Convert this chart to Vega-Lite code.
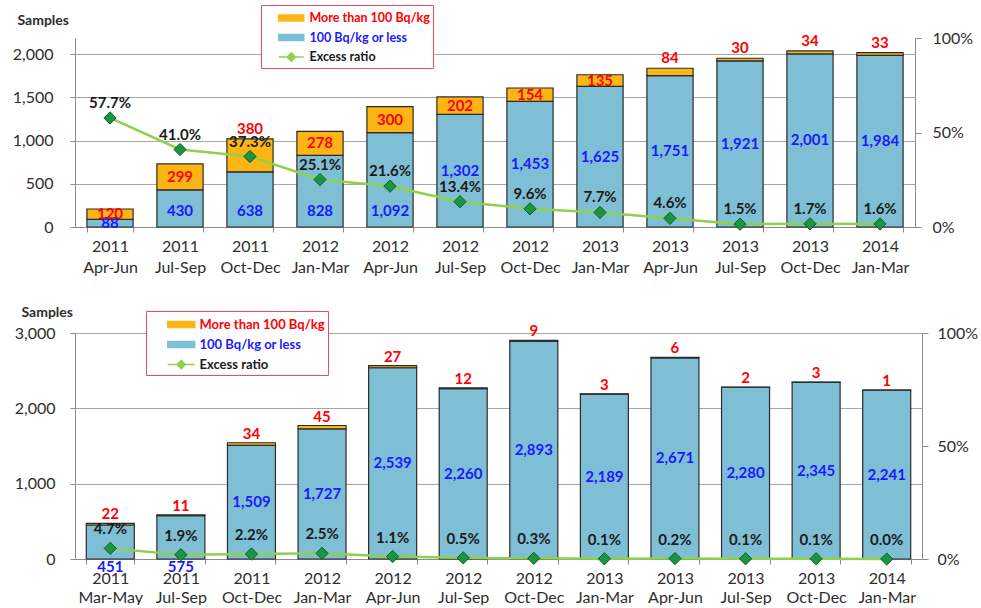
{
  "$schema": "https://vega.github.io/schema/vega-lite/v6.json",
  "background": "white",
  "padding": {"left": 12, "top": 4, "right": 0, "bottom": 0},
  "config": {
    "font": "Lato",
    "view": {"stroke": null},
    "axis": {"labelFont": "Lato", "titleFont": "Lato", "domainColor": "#8c8c8c", "tickColor": "#8c8c8c", "gridColor": "#a6a6a6", "labelColor": "#2e2e2e", "titleColor": "#2e2e2e"},
    "legend": {"labelFont": "Lato"},
    "text": {"font": "Lato"}
  },
  "datasets": {
    "top": [
      {"period": "2011 Apr-Jun", "le": 88, "gt": 120, "ratio": 0.577},
      {"period": "2011 Jul-Sep", "le": 430, "gt": 299, "ratio": 0.410},
      {"period": "2011 Oct-Dec", "le": 638, "gt": 380, "ratio": 0.373},
      {"period": "2012 Jan-Mar", "le": 828, "gt": 278, "ratio": 0.251},
      {"period": "2012 Apr-Jun", "le": 1092, "gt": 300, "ratio": 0.216},
      {"period": "2012 Jul-Sep", "le": 1302, "gt": 202, "ratio": 0.134},
      {"period": "2012 Oct-Dec", "le": 1453, "gt": 154, "ratio": 0.096},
      {"period": "2013 Jan-Mar", "le": 1625, "gt": 135, "ratio": 0.077},
      {"period": "2013 Apr-Jun", "le": 1751, "gt": 84, "ratio": 0.046},
      {"period": "2013 Jul-Sep", "le": 1921, "gt": 30, "ratio": 0.015},
      {"period": "2013 Oct-Dec", "le": 2001, "gt": 34, "ratio": 0.017},
      {"period": "2014 Jan-Mar", "le": 1984, "gt": 33, "ratio": 0.016}
    ],
    "bottom": [
      {"period": "2011 Mar-May", "le": 451, "gt": 22, "ratio": 0.047},
      {"period": "2011 Jul-Sep", "le": 575, "gt": 11, "ratio": 0.019},
      {"period": "2011 Oct-Dec", "le": 1509, "gt": 34, "ratio": 0.022},
      {"period": "2012 Jan-Mar", "le": 1727, "gt": 45, "ratio": 0.025},
      {"period": "2012 Apr-Jun", "le": 2539, "gt": 27, "ratio": 0.011},
      {"period": "2012 Jul-Sep", "le": 2260, "gt": 12, "ratio": 0.005},
      {"period": "2012 Oct-Dec", "le": 2893, "gt": 9, "ratio": 0.003},
      {"period": "2013 Jan-Mar", "le": 2189, "gt": 3, "ratio": 0.001},
      {"period": "2013 Apr-Jun", "le": 2671, "gt": 6, "ratio": 0.002},
      {"period": "2013 Jul-Sep", "le": 2280, "gt": 2, "ratio": 0.001},
      {"period": "2013 Oct-Dec", "le": 2345, "gt": 3, "ratio": 0.001},
      {"period": "2014 Jan-Mar", "le": 2241, "gt": 1, "ratio": 0.000}
    ]
  },
  "bounds": "flush",
  "spacing": 106,
  "resolve": {"scale": {"color": "independent"}, "legend": {"color": "independent"}},
  "vconcat": [
    {
      "width": 840,
      "height": 189,
      "data": {"name": "top"},
      "resolve": {"scale": {"y": "independent"}},
      "encoding": {
        "x": {
          "field": "period", "type": "nominal", "sort": null,
          "scale": {"paddingInner": 0.34, "paddingOuter": 0.17},
          "axis": {"title": null, "labelAngle": 0, "labelExpr": "split(datum.label, ' ')", "labelFontSize": 16, "labelLineHeight": 21, "labelPadding": 6, "tickBand": "extent", "tickSize": 5}
        }
      },
      "layer": [
        {
          "layer": [
            {
              "transform": [{"fold": ["le", "gt"], "as": ["key", "n"]}],
              "mark": {"type": "bar", "stroke": "#2b2b2b", "strokeWidth": 1.2},
              "encoding": {
                "y": {
                  "field": "n", "type": "quantitative", "stack": "zero",
                  "scale": {"domain": [0, 2185], "nice": false},
                  "axis": {"title": "Samples", "titleAngle": 0, "titleAlign": "left", "titleBaseline": "middle", "titleX": -58, "titleY": -18, "titleFontSize": 14, "titleFontWeight": "bold", "values": [0, 500, 1000, 1500, 2000], "labelExpr": "format(datum.value, ',')", "labelFontSize": 16, "labelPadding": 17, "tickSize": 5, "grid": true}
                },
                "color": {
                  "field": "key", "type": "nominal",
                  "scale": {"domain": ["gt", "le", "Excess ratio"], "range": ["#fdb515", "#7fbfd5", "#8ed14a"]},
                  "legend": {
                    "orient": "none", "legendX": 186, "legendY": -33, "direction": "vertical",
                    "title": null, "strokeColor": "#ee4c63", "fillColor": "white", "padding": 3,
                    "symbolSize": 342, "symbolOffset": 17.25, "labelOffset": 8.25, "rowPadding": 2.5,
                    "labelFontSize": 12.5, "labelFontWeight": "bold",
                    "symbolStrokeWidth": 1.5,
                    "symbolType": {"expr": "datum.value == 'Excess ratio' ? 'M-1.35,0H1.35M-0.45,0L0,-0.45L0.45,0L0,0.45Z' : 'M-1.35,-0.32H1.35V0.32H-1.35Z'"},
                    "symbolFillColor": {"expr": "datum.value == 'gt' ? '#fdb515' : datum.value == 'le' ? '#7fbfd5' : '#1a9641'"},
                    "symbolStrokeColor": {"expr": "datum.value == 'Excess ratio' ? '#8ed14a' : '#2b2b2b'"},
                    "labelColor": {"expr": "datum.value == 'gt' ? '#ff0000' : datum.value == 'le' ? '#1a1aff' : '#1a1a1a'"},
                    "labelExpr": "datum.value == 'gt' ? 'More than 100 Bq/kg' : datum.value == 'le' ? '100 Bq/kg or less' : 'Excess ratio'"
                  }
                },
                "order": {"field": "key", "sort": "descending"}
              }
            },
            {
              "transform": [
                {"filter": "datum.le >= 1200 || datum.le < 200"},
                {"calculate": "datum.le / 2", "as": "pos"}
              ],
              "mark": {"type": "text", "color": "#1a1aff", "fontWeight": "bold", "fontSize": 15},
              "encoding": {
                "y": {"field": "pos", "type": "quantitative", "title": "Samples"},
                "text": {"field": "le", "type": "quantitative", "format": ","}
              }
            },
            {
              "transform": [{"filter": "datum.le < 1200 && datum.le >= 200"}],
              "mark": {"type": "text", "color": "#1a1aff", "fontWeight": "bold", "fontSize": 15, "dy": -16},
              "encoding": {
                "y": {"datum": 0, "type": "quantitative"},
                "text": {"field": "le", "type": "quantitative", "format": ","}
              }
            },
            {
              "transform": [
                {"filter": "datum.gt >= 100 && datum.period != '2011 Oct-Dec'"},
                {"calculate": "datum.le + datum.gt / 2", "as": "pos"}
              ],
              "mark": {"type": "text", "color": "#ff0000", "fontWeight": "bold", "fontSize": 15},
              "encoding": {
                "y": {"field": "pos", "type": "quantitative", "title": "Samples"},
                "text": {"field": "gt", "type": "quantitative", "format": ","}
              }
            },
            {
              "transform": [
                {"filter": "datum.gt < 100 || datum.period == '2011 Oct-Dec'"},
                {"calculate": "datum.le + datum.gt", "as": "pos"}
              ],
              "mark": {"type": "text", "color": "#ff0000", "fontWeight": "bold", "fontSize": 15, "dy": -10},
              "encoding": {
                "y": {"field": "pos", "type": "quantitative", "title": "Samples"},
                "text": {"field": "gt", "type": "quantitative", "format": ","}
              }
            }
          ]
        },
        {
          "layer": [
            {
              "mark": {"type": "line", "strokeWidth": 2.5},
              "encoding": {
                "y": {"field": "ratio", "type": "quantitative", "scale": {"domain": [0, 1], "nice": false},
                  "axis": {"orient": "right", "title": null, "values": [0, 0.5, 1], "format": ".0%", "labelFontSize": 16, "tickSize": 6, "labelPadding": 11, "grid": false}},
                "color": {"datum": "Excess ratio", "legend": null}
              }
            },
            {
              "mark": {"type": "point", "shape": "diamond", "filled": true, "size": 150, "fill": "#1a9641", "stroke": "#0d5c26", "strokeWidth": 1, "opacity": 1},
              "encoding": {"y": {"field": "ratio", "type": "quantitative"}}
            },
            {
              "mark": {"type": "text", "color": "#1a1a1a", "fontWeight": "bold", "fontSize": 15, "dy": -15},
              "encoding": {
                "y": {"field": "ratio", "type": "quantitative"},
                "text": {"field": "ratio", "type": "quantitative", "format": ".1%"}
              }
            }
          ]
        }
      ]
    },
    {
      "width": 847,
      "height": 226,
      "data": {"name": "bottom"},
      "resolve": {"scale": {"y": "independent"}},
      "encoding": {
        "x": {
          "field": "period", "type": "nominal", "sort": null,
          "scale": {"paddingInner": 0.32, "paddingOuter": 0.16},
          "axis": {"title": null, "labelAngle": 0, "labelExpr": "split(datum.label, ' ')", "labelFontSize": 16, "labelLineHeight": 19, "labelPadding": 6, "tickBand": "extent", "tickSize": 5}
        }
      },
      "layer": [
        {
          "layer": [
            {
              "transform": [{"fold": ["le", "gt"], "as": ["key", "n"]}],
              "mark": {"type": "bar", "stroke": "#2b2b2b", "strokeWidth": 1.2},
              "encoding": {
                "y": {
                  "field": "n", "type": "quantitative", "stack": "zero",
                  "scale": {"domain": [0, 3000], "nice": false},
                  "axis": {"title": "Samples", "titleAngle": 0, "titleAlign": "left", "titleBaseline": "middle", "titleX": -54, "titleY": -21, "titleFontSize": 14, "titleFontWeight": "bold", "values": [0, 500, 1000, 1500, 2000, 2500, 3000], "labelExpr": "format(datum.value, ',')", "labelFontSize": 16, "labelPadding": 15, "tickSize": 5, "grid": true}
                },
                "color": {
                  "field": "key", "type": "nominal",
                  "scale": {"domain": ["gt", "le", "Excess ratio"], "range": ["#fdb515", "#7fbfd5", "#8ed14a"]},
                  "legend": {
                    "orient": "none", "legendX": 71, "legendY": -22, "direction": "vertical",
                    "title": null, "strokeColor": "#ee4c63", "fillColor": "white", "padding": 3,
                    "symbolSize": 380, "symbolOffset": 21.75, "labelOffset": 7.75, "rowPadding": 2,
                    "labelFontSize": 13, "labelFontWeight": "bold",
                    "symbolStrokeWidth": 1.5,
                    "symbolType": {"expr": "datum.value == 'Excess ratio' ? 'M-1.38,0H1.38M-0.42,0L0,-0.42L0.42,0L0,0.42Z' : 'M-1.38,-0.31H1.38V0.31H-1.38Z'"},
                    "symbolFillColor": {"expr": "datum.value == 'gt' ? '#fdb515' : datum.value == 'le' ? '#7fbfd5' : '#1a9641'"},
                    "symbolStrokeColor": {"expr": "datum.value == 'Excess ratio' ? '#8ed14a' : '#2b2b2b'"},
                    "labelColor": {"expr": "datum.value == 'gt' ? '#ff0000' : datum.value == 'le' ? '#1a1aff' : '#1a1a1a'"},
                    "labelExpr": "datum.value == 'gt' ? 'More than 100 Bq/kg' : datum.value == 'le' ? '100 Bq/kg or less' : 'Excess ratio'"
                  }
                },
                "order": {"field": "key", "sort": "descending"}
              }
            },
            {
              "transform": [
                {"filter": "datum.le >= 1000"},
                {"calculate": "datum.le / 2", "as": "pos"}
              ],
              "mark": {"type": "text", "color": "#1a1aff", "fontWeight": "bold", "fontSize": 15},
              "encoding": {
                "y": {"field": "pos", "type": "quantitative", "title": "Samples"},
                "text": {"field": "le", "type": "quantitative", "format": ","}
              }
            },
            {
              "transform": [{"filter": "datum.le < 1000"}],
              "mark": {"type": "text", "color": "#1a1aff", "fontWeight": "bold", "fontSize": 15, "dy": 8},
              "encoding": {
                "y": {"datum": 0, "type": "quantitative"},
                "text": {"field": "le", "type": "quantitative", "format": ","}
              }
            },
            {
              "transform": [{"calculate": "datum.le + datum.gt", "as": "pos"}],
              "mark": {"type": "text", "color": "#ff0000", "fontWeight": "bold", "fontSize": 15, "dy": -9},
              "encoding": {
                "y": {"field": "pos", "type": "quantitative", "title": "Samples"},
                "text": {"field": "gt", "type": "quantitative", "format": ","}
              }
            }
          ]
        },
        {
          "layer": [
            {
              "mark": {"type": "line", "strokeWidth": 2.5},
              "encoding": {
                "y": {"field": "ratio", "type": "quantitative", "scale": {"domain": [0, 1], "nice": false},
                  "axis": {"orient": "right", "title": null, "values": [0, 0.5, 1], "format": ".0%", "labelFontSize": 16, "tickSize": 6, "labelPadding": 9, "grid": false}},
                "color": {"datum": "Excess ratio", "legend": null}
              }
            },
            {
              "mark": {"type": "point", "shape": "diamond", "filled": true, "size": 150, "fill": "#1a9641", "stroke": "#0d5c26", "strokeWidth": 1, "opacity": 1},
              "encoding": {"y": {"field": "ratio", "type": "quantitative"}}
            },
            {
              "mark": {"type": "text", "color": "#1a1a1a", "fontWeight": "bold", "fontSize": 15, "dy": -19},
              "encoding": {
                "y": {"field": "ratio", "type": "quantitative"},
                "text": {"field": "ratio", "type": "quantitative", "format": ".1%"}
              }
            }
          ]
        }
      ]
    }
  ]
}
